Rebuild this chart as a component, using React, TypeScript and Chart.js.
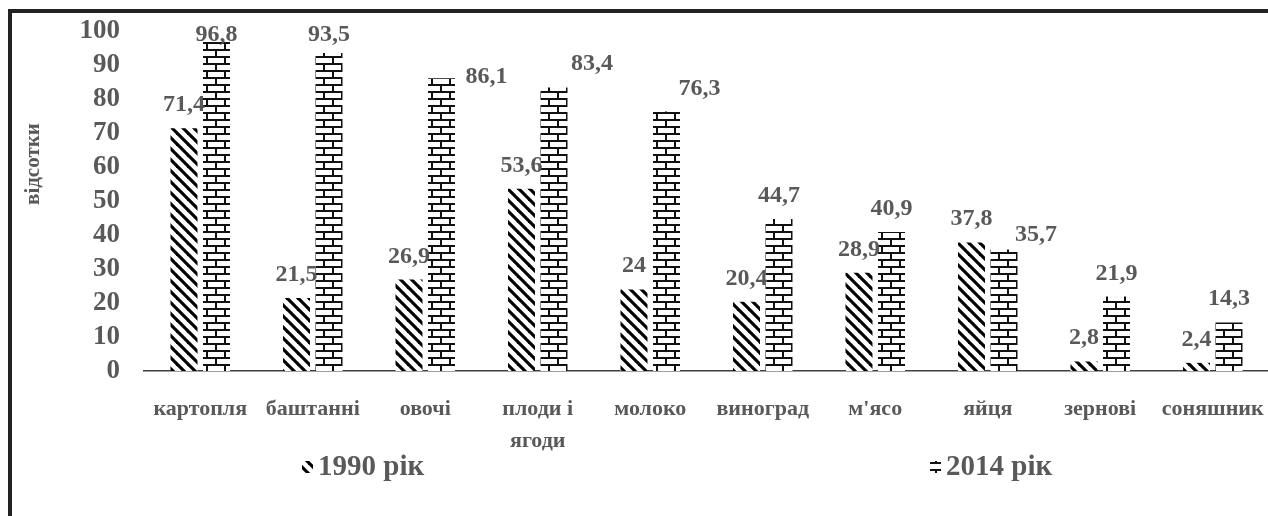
import React, { useEffect, useRef } from "react";
import { Chart, registerables } from "chart.js";

Chart.register(...registerables);

const categories: (string | string[])[] = [
  "картопля",
  "баштанні",
  "овочі",
  ["плоди і", "ягоди"],
  "молоко",
  "виноград",
  "м'ясо",
  "яйця",
  "зернові",
  "соняшник",
];
const values1990 = [71.4, 21.5, 26.9, 53.6, 24, 20.4, 28.9, 37.8, 2.8, 2.4];
const values2014 = [96.8, 93.5, 86.1, 83.4, 76.3, 44.7, 40.9, 35.7, 21.9, 14.3];
const seriesNames = ["1990 рік", "2014 рік"];
const yTitle = "відсотки";

// manual data-label nudges (as moved in the original), [dx, dy] in px
const labelNudge2014: Record<number, [number, number]> = {
  2: [45, 22],
  3: [38, 0],
  4: [33, 0],
  7: [32, 8],
};

const FONT = "'Liberation Serif', 'Times New Roman', serif";
const TEXT = "#595959";

function makeStripes(): CanvasPattern | string {
  const c = document.createElement("canvas");
  c.width = 11;
  c.height = 11;
  const ctx = c.getContext("2d");
  if (!ctx) return "#000";
  ctx.fillStyle = "#fff";
  ctx.fillRect(0, 0, 11, 11);
  ctx.strokeStyle = "#000";
  ctx.lineWidth = 3.2;
  for (let k = -1; k <= 1; k++) {
    ctx.beginPath();
    ctx.moveTo(-2 + k * 11, -2);
    ctx.lineTo(13 + k * 11, 13);
    ctx.stroke();
  }
  return ctx.createPattern(c, "repeat") as CanvasPattern;
}

function makeBricks(): CanvasPattern | string {
  const w = 18;
  const h = 14;
  const c = document.createElement("canvas");
  c.width = w;
  c.height = h;
  const ctx = c.getContext("2d");
  if (!ctx) return "#000";
  ctx.fillStyle = "#fff";
  ctx.fillRect(0, 0, w, h);
  ctx.fillStyle = "#111";
  ctx.fillRect(0, 0, w, 2);
  ctx.fillRect(0, 7, w, 2);
  ctx.fillRect(8, 0, 2, 7);
  ctx.fillRect(0, 7, 1, 7);
  ctx.fillRect(w - 1, 7, 1, 7);
  return ctx.createPattern(c, "repeat") as CanvasPattern;
}

const fmt = (v: number) => String(v).replace(".", ",");

const decorPlugin = {
  id: "decor",
  afterDatasetsDraw(chart: any) {
    const ctx = chart.ctx as CanvasRenderingContext2D;
    ctx.save();
    // data labels
    ctx.font = `bold 24px ${FONT}`;
    ctx.fillStyle = TEXT;
    ctx.textAlign = "center";
    ctx.textBaseline = "alphabetic";
    chart.data.datasets.forEach((ds: any, di: number) => {
      const meta = chart.getDatasetMeta(di);
      meta.data.forEach((bar: any, i: number) => {
        const v = ds.data[i];
        const nudge = di === 1 ? labelNudge2014[i] || [0, 0] : [0, 0];
        const y = Math.max(bar.y - 17, 41) + nudge[1];
        ctx.fillText(fmt(v), bar.x + nudge[0], y);
      });
    });
    // y title
    ctx.save();
    ctx.translate(34, 164);
    ctx.rotate(-Math.PI / 2);
    ctx.font = `bold 21px ${FONT}`;
    ctx.textAlign = "center";
    ctx.textBaseline = "middle";
    ctx.fillText(yTitle, 0, 0);
    ctx.restore();
    // legend
    const legendX = [302, 930];
    const ly = 467;
    ctx.font = `bold 29px ${FONT}`;
    ctx.textAlign = "left";
    ctx.textBaseline = "middle";
    chart.data.datasets.forEach((ds: any, di: number) => {
      const x = legendX[di];
      ctx.fillStyle = ds.backgroundColor;
      ctx.fillRect(x, ly - 6, 11, 12);
      ctx.fillStyle = TEXT;
      ctx.fillText(ds.label, x + 16, ly + 1);
    });
    ctx.restore();
  },
};

export default function App() {
  const ref = useRef<HTMLCanvasElement | null>(null);
  useEffect(() => {
    if (!ref.current) return;
    const stripes = makeStripes();
    const bricks = makeBricks();
    const chart = new Chart(ref.current, {
      type: "bar",
      data: {
        labels: categories,
        datasets: [
          {
            label: seriesNames[0],
            data: values1990,
            backgroundColor: stripes as any,
            borderWidth: 0,
            categoryPercentage: 0.578,
            barPercentage: 0.83,
          },
          {
            label: seriesNames[1],
            data: values2014,
            backgroundColor: bricks as any,
            borderWidth: 0,
            categoryPercentage: 0.578,
            barPercentage: 0.83,
          },
        ],
      },
      options: {
        responsive: false,
        animation: false,
        devicePixelRatio: 1,
        layout: { padding: { top: 31, left: 0, right: 1, bottom: 0 } },
        plugins: {
          legend: { display: false },
          tooltip: { enabled: false },
          title: { display: false },
        },
        scales: {
          x: {
            grid: { display: false, drawTicks: false },
            border: { display: true, color: "#404040", width: 1.5 },
            ticks: {
              color: TEXT,
              font: { family: FONT, size: 22, weight: "bold", lineHeight: 1.45 },
              padding: 22,
              maxRotation: 0,
              autoSkip: false,
            },
            afterFit: (s: any) => {
              s.height = 145;
              s.paddingLeft = 0;
              s.paddingRight = 0;
            },
          },
          y: {
            min: 0,
            max: 100,
            grid: { display: false, drawTicks: false },
            border: { display: false },
            ticks: {
              stepSize: 10,
              autoSkip: false,
              color: TEXT,
              font: { family: FONT, size: 27, weight: "bold" },
              padding: 24,
            },
            afterFit: (s: any) => {
              s.width = 144;
              s.paddingTop = 0;
              s.paddingBottom = 0;
            },
          },
        },
      },
      plugins: [decorPlugin],
    });
    return () => chart.destroy();
  }, []);

  return (
    <div
      style={{
        position: "fixed",
        left: 0,
        top: 0,
        width: 1268,
        height: 516,
        overflow: "hidden",
        background: "#fff",
      }}
    >
      <canvas ref={ref} width={1270} height={516} style={{ position: "absolute", left: 0, top: 0 }} />
      <div
        style={{
          position: "absolute",
          left: 8,
          top: 9,
          width: 1400,
          height: 700,
          border: "4px solid #222",
          pointerEvents: "none",
        }}
      />
    </div>
  );
}
